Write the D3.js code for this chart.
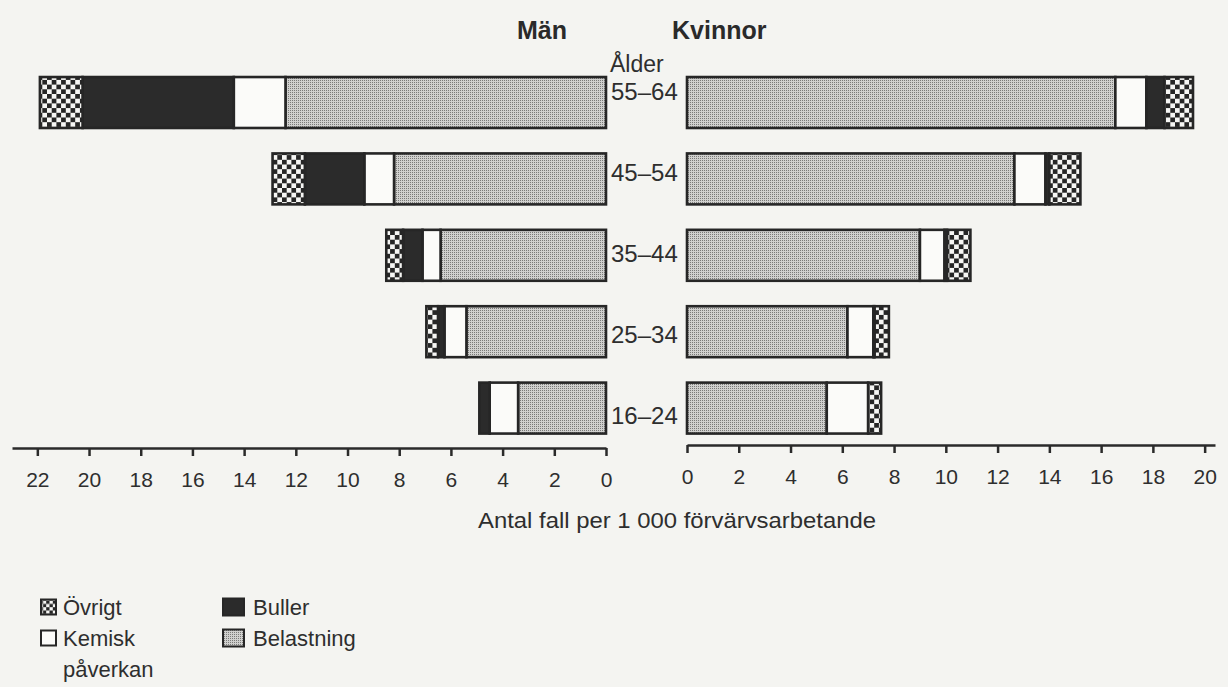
<!DOCTYPE html>
<html>
<head>
<meta charset="utf-8">
<script src="https://cdn.jsdelivr.net/npm/d3@7"></script>
<style>
  body { margin: 0; background: #f4f4f1; }
  svg { display: block; font-family: "Liberation Sans", Arial, sans-serif; }
  .axis path, .axis line { stroke: #2a2a2a; stroke-width: 2.5; }
  .axis text { font-size: 21px; fill: #2e2e2e; }
</style>
</head>
<body>
<svg id="chart" width="1228" height="687"></svg>
<script>
// age groups, top to bottom
const ages = ["55–64", "45–54", "35–44", "25–34", "16–24"];
// causes, from the zero line outwards
const causes = ["Belastning", "Kemisk", "Buller", "Övrigt"];

// cases per 1 000 employed – men
const menBelastning = [12.4, 8.2, 6.4, 5.4, 3.4];
const menKemisk     = [2.0, 1.15, 0.7, 0.85, 1.1];
const menBuller     = [5.85, 2.3, 0.75, 0.25, 0.4];
const menOvrigt     = [1.65, 1.25, 0.65, 0.45, 0];

// cases per 1 000 employed – women
const womenBelastning = [16.55, 12.65, 9.0, 6.2, 5.4];
const womenKemisk     = [1.2, 1.2, 0.95, 1.0, 1.6];
const womenBuller     = [0.7, 0.15, 0.1, 0.05, 0];
const womenOvrigt     = [1.1, 1.2, 0.9, 0.55, 0.5];

const menTicks = [22, 20, 18, 16, 14, 12, 10, 8, 6, 4, 2, 0];
const womenTicks = [0, 2, 4, 6, 8, 10, 12, 14, 16, 18, 20];

const legendLabels = [["Övrigt"], ["Kemisk", "påverkan"], ["Buller"], ["Belastning"]];
const legendKeys = ["Övrigt", "Kemisk", "Buller", "Belastning"];

// build rows for d3.stack
function rows(bel, kem, bul, ovr) {
  return ages.map((a, i) => ({ age: a, Belastning: bel[i], Kemisk: kem[i], Buller: bul[i], "Övrigt": ovr[i] }));
}
const menRows = rows(menBelastning, menKemisk, menBuller, menOvrigt);
const womenRows = rows(womenBelastning, womenKemisk, womenBuller, womenOvrigt);

const svg = d3.select("#chart");
const ink = "#262626";

// patterns
const defs = svg.append("defs");
const dots = defs.append("pattern").attr("id", "dots")
  .attr("patternUnits", "userSpaceOnUse").attr("width", 2).attr("height", 2);
dots.append("rect").attr("width", 2).attr("height", 2).attr("fill", "#d0d0ce");
dots.append("rect").attr("width", 1).attr("height", 1).attr("fill", "#7a7a78");

function checker(id, s) {
  const p = defs.append("pattern").attr("id", id)
    .attr("patternUnits", "userSpaceOnUse").attr("width", s * 2).attr("height", s * 2);
  p.append("rect").attr("width", s * 2).attr("height", s * 2).attr("fill", "#f6f6f4");
  p.append("rect").attr("width", s).attr("height", s).attr("fill", ink);
  p.append("rect").attr("x", s).attr("y", s).attr("width", s).attr("height", s).attr("fill", ink);
}
checker("check", 4.7);
checker("checkSmall", 3.3);

const fills = { Belastning: "url(#dots)", Kemisk: "#fbfbf9", Buller: "#2b2b2b", "Övrigt": "url(#check)" };

// scales
const y = d3.scaleBand().domain(ages).range([64.3, 446.3]).paddingInner(0.333).paddingOuter(0.1667);
const yLabel = d3.scalePoint().domain(ages).range([92, 416]);
const xMen = d3.scaleLinear().domain([0, 22.98]).range([606, 12]);
const xWomen = d3.scaleLinear().domain([0, 20.4]).range([687, 1215]);

const stack = d3.stack().keys(causes);

function drawBars(data, x) {
  const series = stack(data);
  const g = svg.append("g");
  series.forEach(s => {
    g.selectAll(null)
      .data(s.filter(d => d[1] - d[0] > 0))
      .enter().append("rect")
      .attr("x", d => Math.min(x(d[0]), x(d[1])))
      .attr("width", d => Math.abs(x(d[1]) - x(d[0])))
      .attr("y", d => y(d.data.age))
      .attr("height", y.bandwidth())
      .attr("fill", fills[s.key])
      .attr("stroke", ink)
      .attr("stroke-width", 2.6);
  });
}
drawBars(menRows, xMen);
drawBars(womenRows, xWomen);

// axes
svg.append("g").attr("class", "axis")
  .attr("transform", "translate(0,448)")
  .call(d3.axisBottom(xMen).tickValues(menTicks).tickSize(8).tickSizeOuter(0).tickPadding(16))
  .call(g => g.selectAll("text").attr("font-family", null));
svg.append("g").attr("class", "axis")
  .attr("transform", "translate(0,445)")
  .call(d3.axisBottom(xWomen).tickValues(womenTicks).tickSize(8).tickSizeOuter(0).tickPadding(16))
  .call(g => g.selectAll("text").attr("font-family", null));

// titles and labels
svg.append("text").attr("x", 542).attr("y", 39).attr("text-anchor", "middle")
  .attr("font-size", 25).attr("font-weight", "bold").attr("fill", "#2a2a2a").text("Män");
svg.append("text").attr("x", 672).attr("y", 39)
  .attr("font-size", 25).attr("font-weight", "bold").attr("fill", "#2a2a2a").text("Kvinnor");
svg.append("text").attr("x", 610).attr("y", 72)
  .attr("font-size", 23).attr("fill", "#2e2e2e").text("Ålder");

svg.append("g").selectAll("text")
  .data(ages).enter().append("text")
  .attr("x", 611).attr("y", d => yLabel(d)).attr("dy", "0.35em")
  .attr("font-size", 24).attr("fill", "#2e2e2e")
  .text(d => d);

svg.append("text").attr("x", 677).attr("y", 528).attr("text-anchor", "middle")
  .attr("font-size", 22).attr("fill", "#2e2e2e")
  .attr("textLength", 398).attr("lengthAdjust", "spacingAndGlyphs")
  .text("Antal fall per 1 000 förvärvsarbetande");

// legend: two columns, two rows
const legendFill = { "Övrigt": "url(#checkSmall)", Kemisk: "#fbfbf9", Buller: "#2b2b2b", Belastning: "url(#dots)" };
const leg = svg.append("g");
legendKeys.forEach((k, i) => {
  const col = Math.floor(i / 2), row = i % 2;
  const sx = col === 0 ? 41 : 223;
  const sw = col === 0 ? 15 : 21;
  const sh = col === 0 ? 15 : 17;
  const cy = 607 + row * 31;
  leg.append("rect").attr("x", sx).attr("y", cy - sh / 2).attr("width", sw).attr("height", sh)
    .attr("fill", legendFill[k]).attr("stroke", ink).attr("stroke-width", 2);
  legendLabels[i].forEach((line, j) => {
    leg.append("text").attr("x", sx + sw + (col === 0 ? 7 : 9)).attr("y", cy + j * 31)
      .attr("dy", "0.35em").attr("font-size", 22).attr("fill", "#2e2e2e").text(line);
  });
});
</script>
</body>
</html>
